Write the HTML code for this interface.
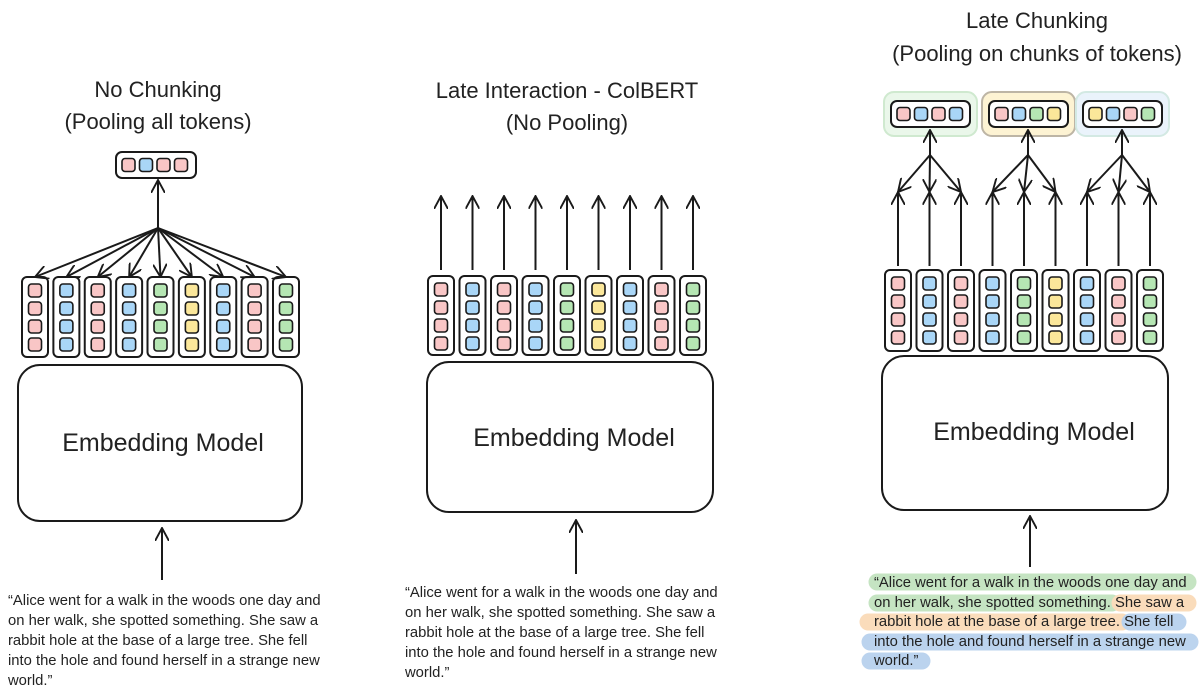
<!DOCTYPE html>
<html><head><meta charset="utf-8"><style>
html,body{margin:0;padding:0;background:#fff;}
svg{display:block;font-family:"Liberation Sans",sans-serif;}
</style></head><body>
<svg id="s" width="1200" height="693" viewBox="0 0 1200 693" xmlns="http://www.w3.org/2000/svg">
<defs>
<marker id="ah" viewBox="0 0 14 14" refX="13" refY="7" markerWidth="14" markerHeight="14" markerUnits="userSpaceOnUse" orient="auto">
<path d="M0,0 L13,7 L0,14" fill="none" stroke="#1a1a1a" stroke-width="1.9"/>
</marker>
</defs>
<g id="g" stroke="#1a1a1a" fill="none" stroke-width="2"></g>
<g font-size="22" fill="#222" text-anchor="middle">
<text x="158" y="97">No Chunking</text>
<text x="158" y="129">(Pooling all tokens)</text>
<text x="567" y="98">Late Interaction - ColBERT</text>
<text x="567" y="130">(No Pooling)</text>
<text x="1037" y="28">Late Chunking</text>
<text x="1037" y="61">(Pooling on chunks of tokens)</text>
</g>
<g font-size="25" fill="#222" text-anchor="middle">
<text x="163" y="451">Embedding Model</text>
<text x="574" y="446">Embedding Model</text>
<text x="1034" y="440">Embedding Model</text>
</g>
<g fill="none" stroke-width="17" stroke-linecap="round" opacity="0.6">
<path d="M877,582 L1188,582" stroke="#9fd39a"/>
<path d="M877,603 L1112,603" stroke="#9fd39a"/>
<path d="M1120,603 L1188,603" stroke="#f7c58f"/>
<path d="M868,622 L1122,622" stroke="#f7c58f"/>
<path d="M1130,622 L1178,622" stroke="#8fb7e3"/>
<path d="M870,642 L1190,642" stroke="#8fb7e3"/>
<path d="M870,661 L922,661" stroke="#8fb7e3"/>
</g>
<g font-size="14.8" fill="#222">
<text x="8" y="605">“Alice went for a walk in the woods one day and</text>
<text x="8" y="625">on her walk, she spotted something. She saw a</text>
<text x="8" y="645">rabbit hole at the base of a large tree. She fell</text>
<text x="8" y="665">into the hole and found herself in a strange new</text>
<text x="8" y="685">world.”</text>
<text x="405" y="597">“Alice went for a walk in the woods one day and</text>
<text x="405" y="617">on her walk, she spotted something. She saw a</text>
<text x="405" y="637">rabbit hole at the base of a large tree. She fell</text>
<text x="405" y="657">into the hole and found herself in a strange new</text>
<text x="405" y="677">world.”</text>
<text x="874" y="587">“Alice went for a walk in the woods one day and</text>
<text x="874" y="607">on her walk, she spotted something. She saw a</text>
<text x="874" y="626">rabbit hole at the base of a large tree. She fell</text>
<text x="874" y="646">into the hole and found herself in a strange new</text>
<text x="874" y="665">world.”</text>
</g>
</svg>
<script>
var NS="http://www.w3.org/2000/svg",g=document.getElementById("g");
function el(t,a,p){var e=document.createElementNS(NS,t);for(var k in a)e.setAttribute(k,a[k]);(p||g).appendChild(e);return e;}
var C={p:"#f9c6c6",b:"#a9d6f7",g:"#b5e6b3",y:"#fbe79a"};
var cols=["p","b","p","b","g","y","b","p","g"];
function columns(x0,x1,y,h){
  var xs=[];var w=26,step=(x1-x0-w)/8;
  for(var i=0;i<9;i++){var x=x0+i*step;xs.push(x+w/2);
    el("rect",{x:x,y:y,width:w,height:h,rx:5,fill:"#fff"});
    for(var j=0;j<4;j++){el("rect",{x:x+6.5,y:y+7+j*18,width:13,height:13,rx:3,fill:C[cols[i]],"stroke-width":1.6});}
  }
  return xs;
}
function vec(x,y,cs,w){
  el("rect",{x:x,y:y,width:w||80,height:26,rx:6,fill:"#fff"});
  for(var j=0;j<4;j++)el("rect",{x:x+6+j*17.5,y:y+6.5,width:13,height:13,rx:3,fill:C[cs[j]],"stroke-width":1.6});
}
function arr(x1,y1,x2,y2){el("line",{x1:x1,y1:y1,x2:x2,y2:y2,"marker-end":"url(#ah)"});}
var L=columns(22,299,277,80);
el("rect",{x:18,y:365,width:284,height:156,rx:22,fill:"#fff"});
vec(116,152,["p","b","p","p"]);
arr(158,228,158,180);
L.forEach(function(x){arr(158,228,x,277);});
arr(162,580,162,528);
var M=columns(428,706,276,79);
el("rect",{x:427,y:362,width:286,height:150,rx:22,fill:"#fff"});
M.forEach(function(x){arr(x,270,x,196);});
arr(576,574,576,520);
var R=columns(885,1163,270,81);
el("rect",{x:882,y:356,width:286,height:154,rx:22,fill:"#fff"});
R.forEach(function(x){arr(x,266,x,192);});
var bg=[["#eaf7ea","#cfe9cf"],["#fdf3d3","#bdb5a5"],["#eaf3fb","#d3e9e3"]];
var chunks=[["p","b","p","b"],["p","b","g","y"],["y","b","p","g"]];
var cx=[930,1028,1122];
for(var k=0;k<3;k++){
  el("rect",{x:cx[k]-46,y:92,width:93,height:44,rx:10,fill:bg[k][0],stroke:bg[k][1],"stroke-width":2});
  vec(cx[k]-39,101,chunks[k],79);
  arr(cx[k],155,cx[k],130);
  for(var j=0;j<3;j++)arr(cx[k],155,R[k*3+j],192);
}
arr(1030,567,1030,516);
</script>
</body></html>
